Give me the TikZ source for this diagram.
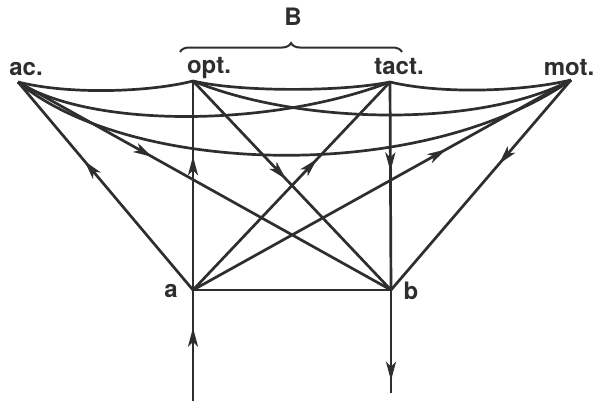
\documentclass[tikz,border=0pt]{standalone}
\usepackage{fontspec}
\setmainfont{TeX Gyre Heros}
\usetikzlibrary{arrows.meta,decorations.markings,decorations.pathreplacing}
\colorlet{ink}{black!82}
\tikzset{
  ln/.style={line width=2.7bp, draw=ink},
  arr/.style={ln, postaction={decorate}, decoration={markings,
     mark=at position #1 with {\arrow[ink]{Stealth[length=19bp,width=10bp,inset=5bp]}}}},
  lbl/.style={font=\fontsize{24bp}{28bp}\selectfont\bfseries, text=ink, inner sep=0pt}
}
\begin{document}
\begin{tikzpicture}[x=1bp,y=-1bp]
\useasboundingbox (0,0) rectangle (598,401);
\coordinate (ac) at (18,82);
\coordinate (opt) at (193,81);
\coordinate (tact) at (390,82);
\coordinate (mot) at (571,80);
\coordinate (a) at (193,290);
\coordinate (b) at (391,290);
\coordinate (src) at (193,401);
\coordinate (snk) at (391,393);
\coordinate (bl) at (180,52);
\coordinate (br) at (402,52);
% labels
\node[lbl] (lac) at (26,69) {ac.};
\node[lbl] (lopt) at (209,68) {opt.};
\node[lbl] (ltact) at (399,67) {tact.};
\node[lbl] (lmot) at (569,68) {mot.};
\node[lbl] (la) at (171,291) {a};
\node[lbl] (lb) at (411,291) {b};
\node[lbl] (lB) at (293,17) {B};
% brace
\draw[line width=2bp, draw=ink, decorate, decoration={brace, amplitude=9bp}] (bl) -- (br);
% curves
\draw[ln] (ac) .. controls (70,95) and (150,92) .. (opt);
\draw[ln] (opt) .. controls (240,92) and (340,92) .. (tact);
\draw[ln] (tact) .. controls (440,94) and (520,92) .. (mot);
\draw[ln] (ac) .. controls (90,128) and (270,128) .. (tact);
\draw[ln] (opt) .. controls (300,125) and (480,128) .. (mot);
\draw[ln] (ac) .. controls (130,175) and (420,185) .. (mot);
% straight connectors
\draw[arr=0.62] (a) -- (ac);
\draw[arr=0.36] (ac) -- (b);
\draw[arr=0.64] (a) -- (opt);
\draw[arr=0.47] (opt) -- (b);
\draw[arr=0.63] (a) -- (tact);
\draw[arr=0.43] (tact) -- (b);
\draw[arr=0.67] (a) -- (mot);
\draw[arr=0.40] (mot) -- (b);
\draw[ln] (a) -- (b);
\draw[arr=0.66] (src) -- (a);
\draw[arr=0.88] (b) -- (snk);
\end{tikzpicture}
\end{document}
